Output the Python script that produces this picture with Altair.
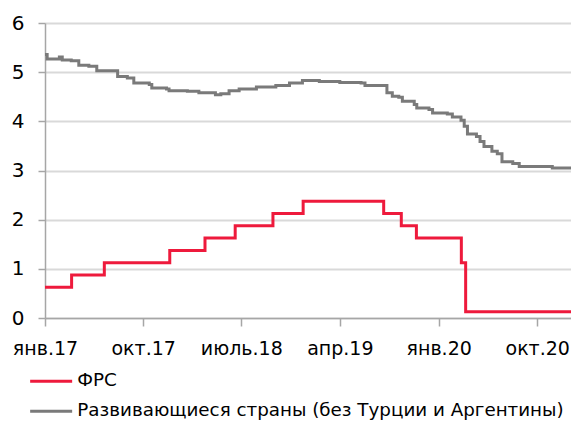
import altair as alt
import pandas as pd

series_names = ["ФРС", "Развивающиеся страны (без Турции и Аргентины)"]
colors = ["#ee1a3c", "#7a7a7a"]

fed_dates = ["2017-01-01", "2017-03-16", "2017-06-15", "2017-12-14", "2018-03-22",
             "2018-06-14", "2018-09-27", "2018-12-20", "2019-08-01", "2019-09-19",
             "2019-10-31", "2020-03-04", "2020-03-16", "2021-01-21"]
fed_values = [0.625, 0.875, 1.125, 1.375, 1.625, 1.875, 2.125, 2.375, 2.125, 1.875,
              1.625, 1.125, 0.125, 0.125]

em_dates = ["2017-01-01", "2017-01-07", "2017-02-10", "2017-02-18", "2017-03-15",
            "2017-04-05", "2017-05-03", "2017-05-25", "2017-07-22", "2017-08-18",
            "2017-09-05", "2017-10-18", "2017-10-25", "2017-12-05", "2017-12-12",
            "2018-02-01", "2018-03-05", "2018-04-20", "2018-05-05", "2018-05-28",
            "2018-06-25", "2018-08-12", "2018-10-05", "2018-11-12", "2018-12-18",
            "2019-02-03", "2019-04-01", "2019-05-30", "2019-06-10", "2019-08-10",
            "2019-08-25", "2019-09-12", "2019-09-22", "2019-10-25", "2019-11-01",
            "2019-12-05", "2019-12-15", "2020-01-25", "2020-02-08", "2020-03-03",
            "2020-03-12", "2020-03-21", "2020-04-15", "2020-04-25", "2020-05-06",
            "2020-05-28", "2020-06-12", "2020-06-25", "2020-07-25", "2020-08-12",
            "2020-11-12", "2021-01-21"]
em_values = [5.36, 5.27, 5.31, 5.25, 5.23,
             5.14, 5.12, 5.03, 4.91, 4.88,
             4.78, 4.75, 4.68, 4.66, 4.62,
             4.61, 4.58, 4.54, 4.56, 4.62,
             4.66, 4.70, 4.73, 4.78, 4.83,
             4.81, 4.79, 4.78, 4.73, 4.58,
             4.51, 4.49, 4.41, 4.34, 4.27,
             4.24, 4.17, 4.15, 4.09, 4.02,
             3.90, 3.74, 3.69, 3.59, 3.49,
             3.39, 3.34, 3.18, 3.14, 3.08,
             3.05, 3.05]

tick_dates = [(2017, 1), (2017, 10), (2018, 7), (2019, 4), (2020, 1), (2020, 10)]
y_ticks = [q / 4 for q in range(0, 25)]

rows = []
for d, v in zip(fed_dates, fed_values):
    rows.append({"date": d, "value": v, "series": series_names[0]})
for d, v in zip(em_dates, em_values):
    rows.append({"date": d, "value": v, "series": series_names[1]})
df = pd.DataFrame(rows)

FONT = "DejaVu Sans"
minor = "datum.value % 1 !== 0"

x_axis = alt.Axis(
    values=[alt.DateTime(year=y, month=m, date=1, utc=True) for y, m in tick_dates],
    labelExpr="(utcmonth(datum.value)==0?'янв.':utcmonth(datum.value)==3?'апр.':"
              "utcmonth(datum.value)==6?'июль.':'окт.') + utcFormat(datum.value,'%y')",
    title=None, grid=False, tickSize=8, tickColor="#a6a6a6", tickWidth=1.5,
    domainColor="#a6a6a6", domainWidth=1.5, labelFontSize=19, labelFont=FONT,
    labelColor="#000000", labelPadding=13, labelFlush=False, labelOverlap=False,
)

y_axis = alt.Axis(
    values=y_ticks, title=None, format="d",
    labelExpr="datum.value % 1 === 0 ? datum.label : ''",
    grid=True,
    gridColor={"condition": {"test": minor, "value": "#e3e3e3"}, "value": "#d9d9d9"},
    gridDash={"condition": {"test": minor, "value": [2, 2]}, "value": []},
    gridWidth={"condition": {"test": minor, "value": 1}, "value": 2},
    tickOpacity={"condition": {"test": minor, "value": 0}, "value": 1},
    tickSize=7, tickColor="#a6a6a6", tickWidth=1.5,
    domainColor="#a6a6a6", domainWidth=1.5,
    labelFontSize=20, labelFont=FONT, labelColor="#000000", labelPadding=14,
)

chart = alt.Chart(df).mark_line(interpolate="step-after", strokeWidth=3, clip=True).encode(
    x=alt.X("date:T", axis=x_axis,
            scale=alt.Scale(type="utc", domain=[
                alt.DateTime(year=2017, month=1, date=1, utc=True),
                alt.DateTime(year=2021, month=1, date=3, utc=True)])),
    y=alt.Y("value:Q", axis=y_axis, scale=alt.Scale(domain=[0, 6], nice=False)),
    color=alt.Color("series:N",
                    scale=alt.Scale(domain=series_names, range=colors),
                    legend=alt.Legend(
                        title=None, orient="none", legendX=11, legendY=349,
                        symbolType="M-5,0H1", symbolSize=196, symbolStrokeWidth=3,
                        labelFontSize=18.3, labelFont=FONT, labelColor="#000000",
                        labelLimit=700, labelOffset=3, rowPadding=11, direction="vertical")),
).properties(
    width=526, height=295,
    autosize=alt.AutoSizeParams(type="none"),
    padding={"left": 37, "top": 15, "right": 0, "bottom": 103},
).configure_view(stroke=None)

chart.save("out.html", embed_options={"renderer": "svg", "actions": False})
